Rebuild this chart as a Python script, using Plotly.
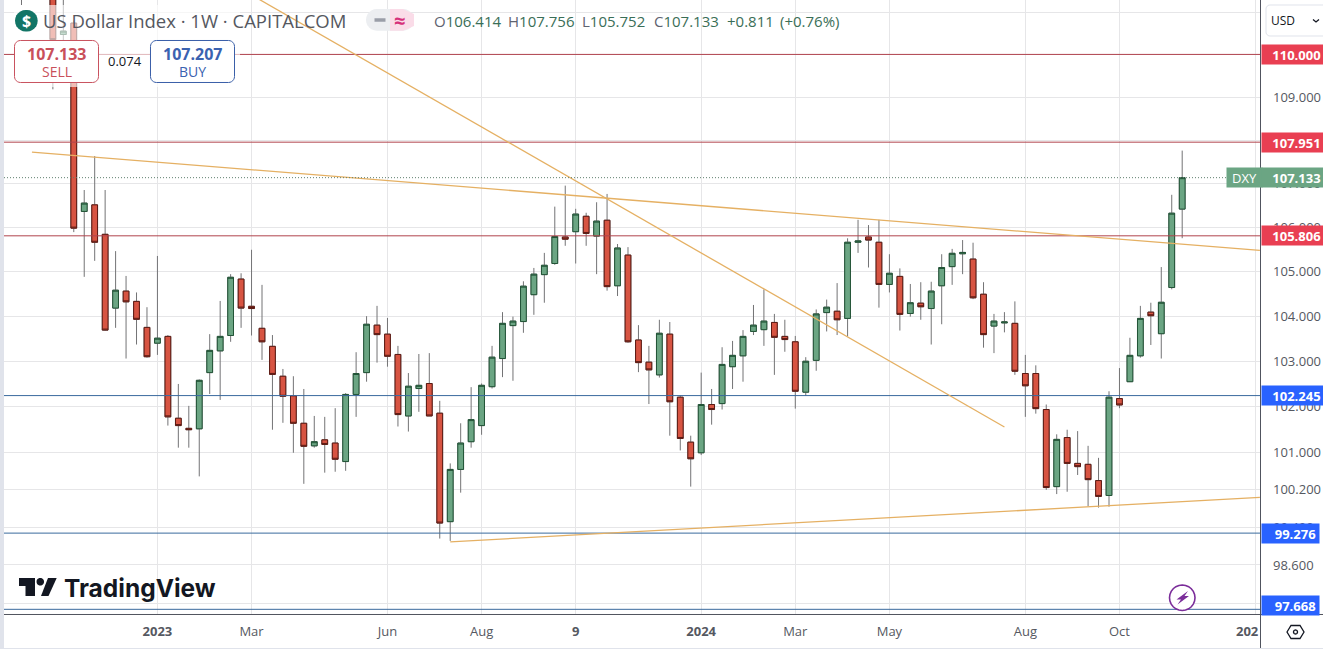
import math

import pandas as pd
import plotly.graph_objects as go

# weekly US Dollar Index candles, first week is 2022-10-03
opens = [112.0, 112.8, 113.3, 111.9, 110.47, 110.74, 106.36, 106.51, 105.84, 104.18, 104.56, 104.33, 103.75,
         103.40, 103.55, 101.75, 101.53, 101.52, 102.75, 103.23, 103.57, 104.83, 104.22, 103.73, 103.33, 102.67,
         102.24, 101.64, 101.15, 101.28, 101.21, 100.81, 102.27, 102.75, 103.80, 103.60, 103.15, 101.80, 102.40,
         102.51, 101.86, 99.52, 100.64, 101.24, 101.59, 102.44, 103.06, 103.79, 103.88, 104.48, 104.93, 105.18,
         105.78, 105.90, 106.25, 105.80, 106.16, 104.68, 105.37, 103.47, 102.98, 102.70, 103.60, 102.21, 101.23,
         101.00, 102.05, 102.07, 102.88, 103.12, 103.66, 103.70, 103.86, 103.55, 103.43, 102.32, 103.02, 104.08,
         104.11, 103.95, 105.66, 105.78, 105.66, 104.71, 104.89, 104.06, 104.29, 104.17, 104.68, 105.11, 105.40,
         105.28, 104.49, 103.78, 103.85, 103.84, 102.73, 102.73, 101.94, 100.27, 101.33, 100.77, 100.75, 100.40,
         100.08, 102.18, 102.55, 103.12, 104.09, 103.61, 104.64, 106.414]
highs = [112.6, 113.5, 113.9, 112.3, 113.0, 110.8, 106.85, 107.63, 106.85, 105.46, 104.90, 104.53, 104.20,
         105.35, 103.58, 102.50, 102.02, 102.60, 103.60, 104.34, 104.94, 104.96, 105.49, 104.70, 103.58, 102.83,
         102.67, 102.39, 101.80, 101.78, 101.97, 102.30, 103.20, 104.00, 104.23, 103.96, 103.34, 102.74, 103.16,
         103.18, 102.13, 100.77, 101.64, 102.43, 102.51, 103.34, 104.09, 103.99, 104.78, 105.08, 105.42, 106.47,
         106.95, 106.42, 106.33, 106.57, 106.76, 105.62, 105.55, 103.80, 103.34, 103.92, 103.87, 102.25, 101.37,
         102.75, 102.39, 103.31, 103.45, 103.69, 104.25, 104.60, 104.05, 103.92, 103.56, 103.09, 104.15, 104.37,
         104.74, 105.75, 106.17, 106.05, 106.17, 105.39, 105.07, 104.72, 104.76, 104.77, 105.39, 105.51, 105.71,
         105.65, 104.76, 104.05, 104.09, 104.33, 103.14, 102.91, 102.05, 101.40, 101.50, 101.47, 101.15, 100.89,
         102.34, 102.85, 103.52, 104.23, 104.30, 105.10, 106.74, 107.756]
lows = [111.17, 112.0, 111.5, 109.18, 109.9, 105.89, 104.88, 105.24, 103.68, 103.74, 103.06, 103.37, 103.08,
        103.14, 101.59, 101.11, 101.11, 100.49, 102.28, 102.15, 103.43, 103.74, 103.57, 103.03, 101.50, 101.65,
        101.00, 100.33, 101.11, 100.57, 100.59, 100.61, 101.78, 102.55, 102.97, 102.88, 101.57, 101.46, 101.89,
        101.80, 99.16, 99.11, 100.14, 101.11, 101.39, 102.40, 102.65, 102.57, 103.63, 104.03, 104.30, 105.15,
        105.58, 105.18, 105.58, 104.94, 104.57, 104.45, 103.41, 102.76, 102.06, 102.64, 101.37, 101.05, 100.27,
        100.95, 101.61, 101.94, 102.39, 102.55, 103.58, 103.34, 102.70, 103.21, 101.96, 102.24, 102.79, 103.66,
        103.58, 103.55, 105.42, 105.09, 104.19, 104.53, 103.68, 103.99, 103.92, 103.37, 103.82, 104.70, 104.94,
        104.38, 103.30, 103.18, 103.64, 102.70, 101.78, 101.85, 100.20, 100.11, 100.16, 100.52, 99.85, 99.82,
        99.84, 101.97, 102.55, 103.08, 103.36, 103.06, 104.60, 105.752]
closes = [112.2, 113.3, 111.9, 110.35, 110.55, 105.98, 106.55, 105.66, 103.69, 104.58, 104.32, 103.93, 103.10,
          103.51, 101.78, 101.59, 101.50, 102.58, 103.24, 103.55, 104.87, 104.18, 104.17, 103.43, 102.71, 102.23,
          101.64, 101.14, 101.24, 101.18, 100.86, 102.27, 102.73, 103.82, 103.59, 103.11, 101.83, 102.45, 102.47,
          101.80, 99.49, 100.64, 101.21, 101.72, 102.47, 103.09, 103.84, 103.89, 104.67, 104.94, 105.14, 105.79,
          105.73, 106.30, 105.86, 106.14, 104.66, 105.53, 103.43, 102.97, 102.81, 103.62, 102.11, 101.31, 100.87,
          102.05, 101.94, 102.93, 103.13, 103.55, 103.80, 103.89, 103.53, 103.48, 102.34, 103.00, 104.05, 104.20,
          103.92, 105.66, 105.69, 105.71, 104.71, 104.96, 104.04, 104.30, 104.21, 104.56, 105.09, 105.41, 105.43,
          104.41, 103.59, 103.89, 103.87, 102.78, 102.46, 101.96, 100.25, 101.29, 100.77, 100.70, 100.42, 100.06,
          102.21, 102.04, 103.13, 103.95, 104.01, 104.31, 106.32, 107.133]

weeks = pd.date_range("2022-10-03", periods=len(opens), freq="7D")

red_levels = [110.000, 107.951, 105.806]
blue_levels = [102.245, 99.276, 97.668]
last_price = closes[-1]
buy_price = 107.207

# trend lines: start date, start price, end date, end price
trend_a = ["2022-10-10", 107.72, "2025-01-09", 105.475]
trend_b = ["2023-03-06", 111.41, "2024-07-22", 101.56]
trend_c = ["2023-07-17", 99.09, "2025-01-09", 100.04]

price_ticks = [111, 110, 109, 108, 107, 106, 105, 104, 103, 102, 101, 100.2, 99.4, 98.6, 97.8]
hidden_price_ticks = [111, 110, 108, 97.8]  # sit fully behind the button and the tags
date_ticks = ["2023-01-02", "2023-03-06", "2023-06-05", "2023-08-07", "2023-10-09", "2024-01-01",
              "2024-03-04", "2024-05-06", "2024-08-05", "2024-10-07", "2025-01-06"]
date_labels = ["<b>2023</b>", "Mar", "Jun", "Aug", "<b>9</b>", "<b>2024</b>", "Mar", "May", "Aug", "Oct", ""]

X_RANGE = ["2022-09-21 07:00", "2025-01-09 02:00"]
Y_RANGE = [math.log10(97.57), math.log10(111.29)]

WIDTH, HEIGHT = 1323, 652
LEFT, RIGHT_EDGE, BOTTOM_EDGE = 4, 1260, 614
FONT = "Open Sans"
UP, UP_EDGE = "#6ba583", "#225437"
DOWN, DOWN_EDGE = "#d75442", "#5b1a13"
TAG_RED, TAG_BLUE = "#e93f52", "#2962ff"
LEVEL_RED, LEVEL_BLUE = "#b0434d", "#3a6a9e"
TREND = "#e5b063"
AXIS = "#50535e"


def px(x):
    return (x - LEFT) / (RIGHT_EDGE - LEFT)


def py(y):
    return 1 - y / BOTTOM_EDGE


def pixel_path(points, close=True):
    path = "M" + " L".join(f"{px(x):.5f},{py(y):.5f}" for x, y in points)
    return path + (" Z" if close else "")


def round_rect(x0, y0, x1, y1, r):
    # corners are cut in small steps, paper coordinates are not square
    pts = []
    for cx, cy, a0 in [(x1 - r, y0 + r, -90), (x1 - r, y1 - r, 0), (x0 + r, y1 - r, 90), (x0 + r, y0 + r, 180)]:
        for step in range(7):
            a = math.radians(a0 + step * 15)
            pts.append((cx + r * math.cos(a), cy + r * math.sin(a)))
    return pixel_path(pts)


def paper_shape(path, fill=None, line=None, width=1):
    return dict(type="path", path=path, xref="paper", yref="paper", layer="above",
                fillcolor=fill or "rgba(0,0,0,0)", line=dict(color=line or "rgba(0,0,0,0)", width=width))


def text(x, y, s, size=13, color="#131722", anchor="left", family=FONT):
    return dict(x=px(x), y=py(y), xref="paper", yref="paper", text=s, showarrow=False, xanchor=anchor,
                yanchor="middle", font=dict(size=size, color=color, family=family))


def price_tag(x0, x1, price, s, color, align="right", yshift=0):
    if align == "right":
        s = f"<b>{s}</b>&nbsp;"
    return dict(x=px(x0), xref="paper", y=math.log10(price), yref="y", text=s, showarrow=False, xanchor="left",
                yanchor="middle", width=x1 - x0, height=19, bgcolor=color, borderpad=0, align=align, yshift=yshift,
                font=dict(size=13, color="white", family=FONT))


fig = go.Figure()

# wicks are grey and the bodies have a darker edge, so they are two traces
fig.add_trace(go.Candlestick(x=weeks, open=opens, high=highs, low=lows, close=closes,
                             increasing=dict(line=dict(color="#737375", width=1), fillcolor=UP),
                             decreasing=dict(line=dict(color="#737375", width=1), fillcolor=DOWN),
                             whiskerwidth=0, showlegend=False, hoverinfo="skip"))
fig.add_trace(go.Candlestick(x=weeks, open=opens, close=closes,
                             high=[max(o, c) for o, c in zip(opens, closes)],
                             low=[min(o, c) for o, c in zip(opens, closes)],
                             increasing=dict(line=dict(color=UP_EDGE, width=1), fillcolor=UP),
                             decreasing=dict(line=dict(color=DOWN_EDGE, width=1), fillcolor=DOWN),
                             whiskerwidth=0, showlegend=False, hoverinfo="skip"))

for level in red_levels:
    fig.add_trace(go.Scatter(x=X_RANGE, y=[level, level], mode="lines", showlegend=False,
                             line=dict(color=LEVEL_RED, width=1), hoverinfo="skip"))
for level in blue_levels:
    fig.add_trace(go.Scatter(x=X_RANGE, y=[level, level], mode="lines", showlegend=False,
                             line=dict(color=LEVEL_BLUE, width=1), hoverinfo="skip"))

for start, p0, end, p1 in [trend_a, trend_b, trend_c]:
    fig.add_trace(go.Scatter(x=[start, end], y=[p0, p1], mode="lines", showlegend=False,
                             line=dict(color=TREND, width=1.3), hoverinfo="skip"))

fig.add_trace(go.Scatter(x=X_RANGE, y=[last_price, last_price], mode="lines", showlegend=False,
                         line=dict(color="#5f7f6f", width=1, dash="1px,2px"), hoverinfo="skip"))

shapes = [
    # left strip and frame
    paper_shape(pixel_path([(0, 0), (LEFT, 0), (LEFT, 648), (0, 648)]), fill="#e0e3eb"),
    paper_shape(pixel_path([(0, 648.5), (WIDTH, 648.5)], close=False), line="#e0e3eb"),
    # legend veil over the candles
    paper_shape(pixel_path([(14, 5), (240, 5), (240, 87), (14, 87)]), fill="rgba(255,255,255,0.62)"),
    paper_shape(pixel_path([(RIGHT_EDGE + 0.5, 0), (RIGHT_EDGE + 0.5, 648)], close=False), line=AXIS),
    paper_shape(pixel_path([(LEFT, BOTTOM_EDGE + 0.5), (WIDTH, BOTTOM_EDGE + 0.5)], close=False), line=AXIS),
    # sell and buy boxes
    paper_shape(round_rect(14.5, 40.5, 98.5, 82.5, 6), fill="white", line="#c9525f"),
    paper_shape(round_rect(150.5, 40.5, 234.5, 82.5, 6), fill="white", line="#3a5fa8"),
    # symbol badge and the two pills
    paper_shape(round_rect(15, 10, 37.7, 31.5, 10.7), fill="#127566"),
    paper_shape(round_rect(366, 9, 414, 30.7, 10.8), fill="#eceef1"),
    paper_shape(pixel_path([(390, 9), (403, 9), (414, 14), (414, 26), (403, 30.7), (390, 30.7)]), fill="#fadce8"),
    paper_shape(pixel_path([(374.5, 20), (385.5, 20)], close=False), line="#9a9ea8", width=3.5),
    # currency button
    paper_shape(round_rect(1266, 5, 1330, 36, 4), fill="white", line="#e0e3eb"),
    paper_shape(pixel_path([(1313, 19.5), (1316, 22), (1319, 19.5)], close=False), line="#131722", width=1.3),
    # TradingView logo
    paper_shape(pixel_path([(19, 578), (35, 578), (35, 596), (25.5, 596), (25.5, 586), (19, 586)]), fill="#131722"),
    paper_shape(round_rect(36.5, 578, 44, 585.5, 3.7), fill="#131722"),
    paper_shape(pixel_path([(48, 578), (56.7, 578), (48.5, 596), (41, 596)]), fill="#131722"),
    # lightning badge
    paper_shape(round_rect(1169.5, 585, 1195, 610.5, 12.7), fill="white", line="#7b2d9a", width=1.6),
    paper_shape(pixel_path([(1188, 591), (1176.5, 599.5), (1181, 599.5), (1177.5, 604.5), (1189, 596), (1184.5, 596)]),
                fill="#7b2d9a"),
    # settings hexagon
    paper_shape(pixel_path([(1287, 632), (1291, 625.5), (1300, 625.5), (1304, 632), (1300, 638.5), (1291, 638.5)]),
                line="#131722", width=1.3),
    paper_shape(round_rect(1293.5, 630, 1297.5, 634, 2), line="#131722", width=1.3),
]

annotations = [
    text(26.5, 20.5, "<b>$</b>", size=16, color="white", anchor="center"),
    text(41, 20.5, "US Dollar Index · 1W · CAPITALCOM", size=18.5, color="#55585f"),
    text(399, 20, "<b>≈</b>", size=20, color="#d6307a", anchor="center"),
    text(432, 20.5, f"<span style='color:#5f6370'>O</span>{opens[-1]:.3f}", size=15, color="#3a6e57"),
    text(506, 20.5, f"<span style='color:#5f6370'>H</span>{highs[-1]:.3f}", size=15, color="#3a6e57"),
    text(580, 20.5, f"<span style='color:#5f6370'>L</span>{lows[-1]:.3f}", size=15, color="#3a6e57"),
    text(652, 20.5, f"<span style='color:#5f6370'>C</span>{closes[-1]:.3f}", size=15, color="#3a6e57"),
    text(725, 20.5, "+0.811", size=15, color="#3a6e57"),
    text(778, 20.5, "(+0.76%)", size=15, color="#3a6e57"),
    text(56.5, 54, f"<b>{last_price:.3f}</b>", size=16, color="#c9505a", anchor="center"),
    text(56.5, 71, "SELL", size=14, color="#c9505a", anchor="center"),
    text(192.5, 54, f"<b>{buy_price:.3f}</b>", size=16, color="#3b62b0", anchor="center"),
    text(192.5, 71, "BUY", size=14, color="#3b62b0", anchor="center"),
    text(125, 60.5, f"{buy_price - last_price:.3f}", size=13, anchor="center"),
    text(1269, 20.5, "USD", size=12),
    text(62, 588, "<b>TradingView</b>", size=24.5, family="Inter"),
    text(1261, 631.5, "<b>202</b>", size=13, color="#555861", anchor="right"),
    price_tag(1226, 1261, last_price, "DXY", UP, align="center"),
    price_tag(1261, 1323, last_price, f"{last_price:.3f}", UP),
]
for level in red_levels:
    annotations.append(price_tag(1261, 1323, level, f"{level:.3f}", TAG_RED))
annotations.append(price_tag(1261, 1323, blue_levels[0], f"{blue_levels[0]:.3f}", TAG_BLUE))
annotations.append(price_tag(1261, 1318, blue_levels[1], f"{blue_levels[1]:.3f}", TAG_BLUE))
# last tag is pushed up so it stops at the time axis
annotations.append(price_tag(1261, 1318, blue_levels[2], f"{blue_levels[2]:.3f}", TAG_BLUE, yshift=4))

fig.update_layout(
    width=WIDTH, height=HEIGHT, autosize=False,
    margin=dict(l=LEFT, r=WIDTH - RIGHT_EDGE, t=0, b=HEIGHT - BOTTOM_EDGE, pad=0),
    paper_bgcolor="white", plot_bgcolor="white", showlegend=False,
    boxgap=0.45, boxgroupgap=0, font=dict(family=FONT, size=13, color="#555861"),
    shapes=shapes, annotations=annotations,
    xaxis=dict(type="date", range=X_RANGE, rangeslider=dict(visible=False), tickmode="array",
               tickvals=date_ticks, ticktext=date_labels, ticks="", ticklabelstandoff=8,
               showgrid=True, gridcolor="#e6e6e8", gridwidth=1, zeroline=False, showline=False),
    yaxis=dict(type="log", range=Y_RANGE, side="right", tickmode="array", tickvals=price_ticks,
               ticktext=["" if t in hidden_price_ticks else f"{t:.3f}" for t in price_ticks],
               ticks="", ticklabelstandoff=12,
               showgrid=True, gridcolor="#e6e6e8", gridwidth=1, zeroline=False, showline=False),
)

fig.write_html("out.html", config=dict(displayModeBar=False),
               post_script="document.body.style.margin='0';")
